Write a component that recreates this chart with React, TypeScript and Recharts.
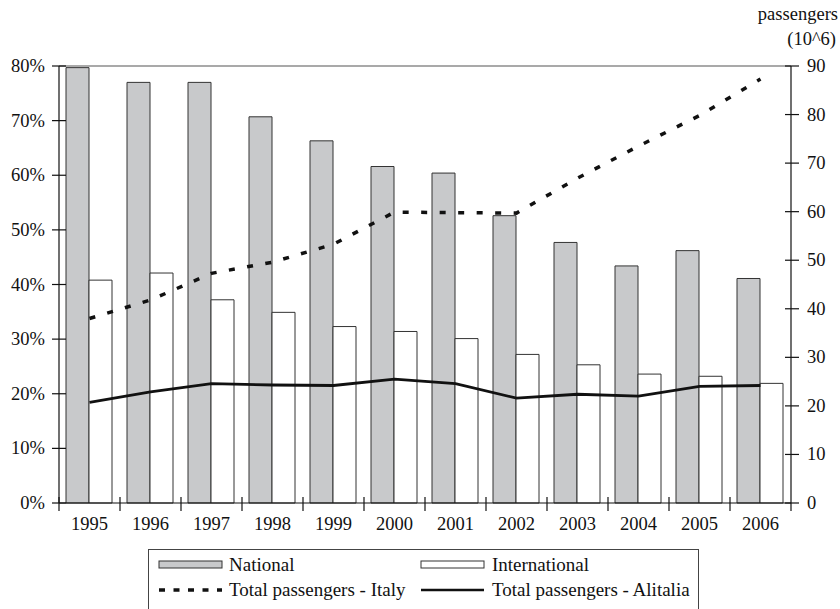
import React from 'react';
import { ComposedChart, Bar, Line, XAxis, YAxis, ReferenceLine } from 'recharts';

const years = ['1995', '1996', '1997', '1998', '1999', '2000', '2001', '2002', '2003', '2004', '2005', '2006'];
const national = [79.7, 77.0, 77.0, 70.7, 66.3, 61.6, 60.4, 52.6, 47.7, 43.4, 46.2, 41.1];
const international = [40.8, 42.1, 37.2, 34.9, 32.3, 31.4, 30.1, 27.2, 25.3, 23.6, 23.2, 21.9];
const italy = [38.0, 41.8, 47.3, 49.6, 53.3, 59.9, 59.8, 59.7, 66.9, 73.5, 79.8, 87.3];
const alitalia = [20.7, 22.9, 24.6, 24.3, 24.2, 25.5, 24.6, 21.6, 22.4, 22.0, 24.0, 24.2];
const leftTicks = [0, 10, 20, 30, 40, 50, 60, 70, 80];
const rightTicks = [0, 10, 20, 30, 40, 50, 60, 70, 80, 90];
const seriesNames = ['National', 'International', 'Total passengers - Italy', 'Total passengers - Alitalia'];

const data = years.map((y, i) => ({
	year: y,
	national: national[i],
	international: international[i],
	italy: italy[i],
	alitalia: alitalia[i],
}));

const FONT = '"Liberation Serif", "Times New Roman", serif';
const FS = 18.5;
const LFS = 19;
const txt = { fontFamily: FONT };
const W = 840;
const H = 609;
const PLOT_LEFT = 59;
const PLOT_RIGHT = 791;
const PLOT_BOTTOM = 503;
const BAND = (PLOT_RIGHT - PLOT_LEFT) / years.length;

const LeftTick = (props: any) => {
	const { y, payload } = props;
	return (
		<g>
			<line x1={PLOT_LEFT - 7} x2={PLOT_LEFT + 7} y1={y} y2={y} stroke='#111' strokeWidth={1.2} />
			<text x={PLOT_LEFT - 14} y={y + 6} textAnchor='end' style={txt} fontSize={FS} fill='#111'>
				{payload.value}%
			</text>
		</g>
	);
};

const RightTick = (props: any) => {
	const { y, payload } = props;
	return (
		<g>
			<line x1={PLOT_RIGHT - 6} x2={PLOT_RIGHT + 8} y1={y} y2={y} stroke='#111' strokeWidth={1.2} />
			<text x={PLOT_RIGHT + 16} y={y + 6} textAnchor='start' style={txt} fontSize={FS} fill='#111'>
				{payload.value}
			</text>
		</g>
	);
};

const XTick = (props: any) => {
	const { x, payload, index } = props;
	const last = index === years.length - 1;
	return (
		<g>
			<line x1={x - BAND / 2} x2={x - BAND / 2} y1={PLOT_BOTTOM - 6} y2={PLOT_BOTTOM + 8} stroke='#111' strokeWidth={1.2} />
			{last && (
				<line x1={x + BAND / 2} x2={x + BAND / 2} y1={PLOT_BOTTOM} y2={PLOT_BOTTOM + 8} stroke='#111' strokeWidth={1.2} />
			)}
			<text x={x} y={PLOT_BOTTOM + 27} textAnchor='middle' style={txt} fontSize={FS} fill='#111'>
				{payload.value}
			</text>
		</g>
	);
};

const RightLabel = () => (
	<g style={txt} fontSize={FS} fill='#111'>
		<text x={838} y={20} textAnchor='end' style={txt}>passengers</text>
		<text x={836} y={45} textAnchor='end' style={txt}>(10^6)</text>
	</g>
);

function LegendBox() {
	return (
		<div
			style={{
				position: 'absolute',
				left: 148,
				top: 549,
				width: 551,
				height: 70,
				border: '1px solid #444',
				borderBottom: 'none',
				boxSizing: 'border-box',
			}}
		>
			<svg width={551} height={70} style={{ position: 'absolute', left: -1, top: -1 }}>
				<g style={txt} fontSize={LFS} fill='#111'>
					<rect x={11} y={12} width={63} height={7} fill='#c8c9cb' stroke='#333' strokeWidth={1} />
					<text x={81} y={22} style={txt}>{seriesNames[0]}</text>
					<rect x={273} y={12} width={63} height={7} fill='#fff' stroke='#333' strokeWidth={1} />
					<text x={344} y={22} style={txt}>{seriesNames[1]}</text>
					<line x1={11} x2={74} y1={41} y2={41} stroke='#111' strokeWidth={3.5} strokeDasharray='6 8.5' />
					<text x={81} y={47} style={txt}>{seriesNames[2]}</text>
					<line x1={273} x2={336} y1={41} y2={41} stroke='#111' strokeWidth={2.5} />
					<text x={344} y={47} style={txt}>{seriesNames[3]}</text>
				</g>
			</svg>
		</div>
	);
}

export default function App() {
	return (
		<div style={{ position: 'absolute', left: 0, top: 0, width: W, height: H, background: '#fff', fontFamily: FONT }}>
			<ComposedChart
				width={W}
				height={H}
				data={data}
				margin={{ top: 66, right: 0, left: 0, bottom: H - PLOT_BOTTOM - 30 }}
				barCategoryGap='11.5%'
				barGap={0}
				style={txt}
			>
				<XAxis
					dataKey='year'
					height={30}
					axisLine={{ stroke: '#111', strokeWidth: 1.2 }}
					tickLine={false}
					tick={<XTick />}
					interval={0}
				/>
				<YAxis
					yAxisId='left'
					orientation='left'
					width={PLOT_LEFT}
					domain={[0, 80]}
					ticks={leftTicks}
					axisLine={{ stroke: '#111', strokeWidth: 1.2 }}
					tickLine={false}
					tick={<LeftTick />}
					interval={0}
				/>
				<YAxis
					yAxisId='right'
					orientation='right'
					width={W - PLOT_RIGHT}
					domain={[0, 90]}
					ticks={rightTicks}
					axisLine={{ stroke: '#111', strokeWidth: 1.2 }}
					tickLine={false}
					tick={<RightTick />}
					interval={0}
					label={<RightLabel />}
				/>
				<ReferenceLine yAxisId='left' y={80} stroke='#555' strokeWidth={1.2} />
				<Bar yAxisId='left' dataKey='national' name={seriesNames[0]} fill='#c8c9cb' stroke='#333' strokeWidth={1} isAnimationActive={false} />
				<Bar yAxisId='left' dataKey='international' name={seriesNames[1]} fill='#fff' stroke='#333' strokeWidth={1} isAnimationActive={false} />
				<Line
					yAxisId='right'
					type='linear'
					dataKey='italy'
					name={seriesNames[2]}
					stroke='#111'
					strokeWidth={3.5}
					strokeDasharray='6 12.5'
					dot={false}
					isAnimationActive={false}
				/>
				<Line
					yAxisId='right'
					type='linear'
					dataKey='alitalia'
					name={seriesNames[3]}
					stroke='#111'
					strokeWidth={2.8}
					dot={false}
					isAnimationActive={false}
				/>
			</ComposedChart>
			<LegendBox />
		</div>
	);
}
